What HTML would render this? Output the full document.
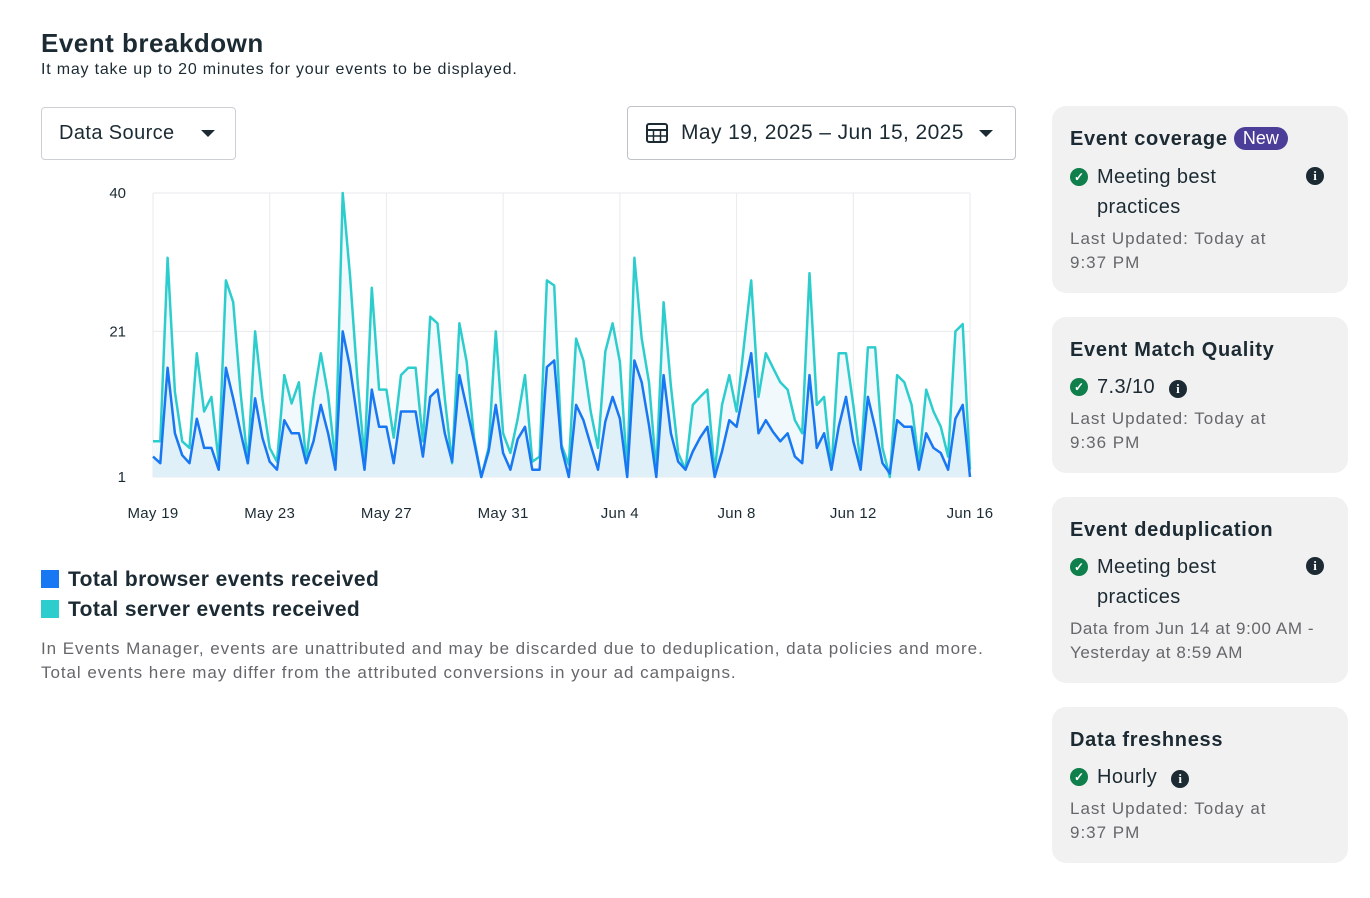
<!DOCTYPE html>
<html><head><meta charset="utf-8"><style>
body{margin:0;width:1370px;height:898px;background:#fff;font-family:"Liberation Sans",sans-serif;color:#1c2b33;position:relative;overflow:hidden}
.a{position:absolute}
.card{position:absolute;left:1052px;width:296px;background:#f1f1f1;border-radius:14px}
.ct{position:absolute;left:18px;font-weight:bold;font-size:20px;color:#1c2b33;letter-spacing:0.7px}
.row{position:absolute;left:18px;font-size:20px;color:#1c2b33;line-height:30px;letter-spacing:0.4px}
.chk{display:inline-block;width:18px;height:18px;border-radius:50%;background:#0f7f4c;color:#fff;font-size:12px;text-align:center;line-height:18px;vertical-align:2px;margin-right:9px;font-weight:bold;letter-spacing:0}
.inf{display:inline-block;width:18px;height:18px;border-radius:50%;background:#1c2b33;color:#fff;font-size:13px;text-align:center;line-height:18px;font-weight:bold;font-family:"Liberation Serif",serif;letter-spacing:0}
.sub{position:absolute;left:18px;font-size:17px;color:#65676b;line-height:24px;letter-spacing:1px}
.caret{position:absolute;width:0;height:0;border-left:7px solid transparent;border-right:7px solid transparent;border-top:7px solid #1c2b33}
</style></head><body>
<div class="a" style="left:41px;top:28px;font-size:26px;font-weight:bold;letter-spacing:0.5px">Event breakdown</div>
<div class="a" style="left:41px;top:61px;font-size:16px;letter-spacing:0.8px">It may take up to 20 minutes for your events to be displayed.</div>
<div class="a" style="left:41px;top:107px;width:195px;height:53px;border:1px solid #ccd0d5;border-radius:4px;font-size:20px;line-height:51px;box-sizing:border-box;padding-left:17px;letter-spacing:0.4px">Data Source<span class="caret" style="left:159px;top:22px"></span></div>
<div class="a" style="left:627px;top:106px;width:389px;height:54px;border:1px solid #bfc3c8;border-radius:4px;box-sizing:border-box;font-size:21px;line-height:52px;padding-left:53px;letter-spacing:0.4px">May 19, 2025 – Jun 15, 2025<span class="caret" style="left:351px;top:23px"></span>
<svg style="position:absolute;left:18px;top:15px" width="22" height="22"><rect x="1" y="2" width="20" height="18" rx="2" fill="none" stroke="#1c2b33" stroke-width="2"/><line x1="1" y1="8" x2="21" y2="8" stroke="#1c2b33" stroke-width="2"/><line x1="7.5" y1="8" x2="7.5" y2="20" stroke="#1c2b33" stroke-width="1.5"/><line x1="14.5" y1="8" x2="14.5" y2="20" stroke="#1c2b33" stroke-width="1.5"/><line x1="1" y1="14" x2="21" y2="14" stroke="#1c2b33" stroke-width="1.5"/></svg></div>

<svg id="chart" class="a" style="left:0;top:0" width="1030" height="540"></svg>

<div class="a" style="left:41px;top:568px;font-size:21px;font-weight:bold;letter-spacing:0.4px"><span style="display:inline-block;width:18px;height:18px;background:#1877f2;vertical-align:-2px;margin-right:9px"></span>Total browser events received</div>
<div class="a" style="left:41px;top:598px;font-size:21px;font-weight:bold;letter-spacing:0.4px"><span style="display:inline-block;width:18px;height:18px;background:#2ecdcd;vertical-align:-2px;margin-right:9px"></span>Total server events received</div>
<div class="a" style="left:41px;top:637px;font-size:17px;color:#65676b;line-height:24px;letter-spacing:0.95px;white-space:nowrap">In Events Manager, events are unattributed and may be discarded due to deduplication, data policies and more.<br>Total events here may differ from the attributed conversions in your ad campaigns.</div>

<div class="card" style="top:106px;height:187px">
<div class="ct" style="top:21px">Event coverage <span style="display:inline-block;background:#4b3e98;color:#fff;font-weight:normal;font-size:18px;border-radius:13px;padding:1px 9px;vertical-align:1px;letter-spacing:0">New</span></div>
<div class="row" style="top:56px"><span class="chk">✓</span>Meeting best<br><span style="padding-left:27px">practices</span></div>
<span class="inf a" style="left:254px;top:61px">i</span>
<div class="sub" style="top:121px">Last Updated: Today at<br>9:37 PM</div></div>

<div class="card" style="top:317px;height:156px">
<div class="ct" style="top:22px">Event Match Quality</div>
<div class="row" style="top:55px"><span class="chk">✓</span>7.3/10 <span class="inf" style="margin-left:8px">i</span></div>
<div class="sub" style="top:90px">Last Updated: Today at<br>9:36 PM</div></div>

<div class="card" style="top:497px;height:186px">
<div class="ct" style="top:22px">Event deduplication</div>
<div class="row" style="top:55px"><span class="chk">✓</span>Meeting best<br><span style="padding-left:27px">practices</span></div>
<span class="inf a" style="left:254px;top:60px">i</span>
<div class="sub" style="top:120px;letter-spacing:0.6px">Data from Jun 14 at 9:00 AM -<br>Yesterday at 8:59 AM</div></div>

<div class="card" style="top:707px;height:156px">
<div class="ct" style="top:22px">Data freshness</div>
<div class="row" style="top:55px"><span class="chk">✓</span>Hourly <span class="inf" style="margin-left:8px">i</span></div>
<div class="sub" style="top:90px">Last Updated: Today at<br>9:37 PM</div></div>

<script>
const yTicks=[1,21,40];
const xLabels=["May 19","May 23","May 27","May 31","Jun 4","Jun 8","Jun 12","Jun 16"];
const server=[5.9,5.9,31.1,12.7,5.9,5,18,10,12,3.1,28,25,12.7,2.9,21,11.8,5,3.1,15,11.1,14,3.1,11.8,18,12.3,3.1,40,28.7,14.6,3.6,27,13,13,6.4,15,16,16,5.9,23,22.1,11.8,2.9,22.1,16.8,6.4,1,5,21,7,4.3,9,15,3.1,3.8,28,27.3,5.4,2.7,20,17,10,5,18.2,22.1,16.8,1.8,31.1,20,14,1.8,25,13.5,4.3,2,10.9,12,13,1.8,10.9,15,10,19,28,12,18,16,14,13,8.8,7,29,10.9,12,2,18,18,10.9,2.9,18.8,18.8,5,1,15,14,10.9,2.9,13,10,7.9,3.8,21,22,2];
const browser=[3.8,2.9,16,7,4,2.9,9,5,5,2,16,11.8,7.2,2.9,11.8,6.4,3.1,2,8.8,7,7,2.9,5.9,10.9,7,2,21,16.1,9,2,13,7.9,7.9,2.9,10,10,10,3.8,12,13,7,3.1,15,10.5,5.9,1,4.5,10.9,4.3,2,6.2,7.9,2,2,16.1,17,5,1,10.9,8.8,5.4,2,8.6,12,9,1,17,14,8.1,1,15,7,3.1,2,4.5,6.4,7.9,1,4.5,8.8,7.9,13,18,7,8.8,7.2,5.9,7,3.8,2.9,15,5,7,2,7.9,12,5.9,2,12,7.7,2.9,1.5,8.8,7.9,7.9,2,7,5,4.3,2,9,10.9,1];
const svg=document.getElementById('chart');const NS='http://www.w3.org/2000/svg';
const X0=153,X1=970,Y0=477,Y1=193;
const sx=i=>X0+(X1-X0)*i/(server.length-1);
const sy=v=>Y0-(v-1)/(40-1)*(Y0-Y1);
function mk(t,a){const e=document.createElementNS(NS,t);for(const k in a)e.setAttribute(k,a[k]);svg.appendChild(e);return e;}
xLabels.forEach((l,k)=>{const x=X0+(X1-X0)*k/(xLabels.length-1);
 const g=mk('line',{x1:x,x2:x,y1:Y1,y2:Y0,stroke:'#e8eaed','stroke-width':1});
 
 
 const t=mk('text',{x:x,y:518,'text-anchor':'middle','font-size':15,fill:'#1c2b33','font-family':'Liberation Sans','letter-spacing':'0.3'});t.textContent=l;
 
 });
yTicks.forEach(v=>{const y=sy(v);
 const g=mk('line',{x1:X0,x2:X1,y1:y,y2:y,stroke:'#e8eaed','stroke-width':1});
 
 
 const t=mk('text',{x:126,y:y+5,'text-anchor':'end','font-size':15,fill:'#1c2b33','font-family':'Liberation Sans'});t.textContent=v;
 
 });
function pts(a){return a.map((v,i)=>sx(i).toFixed(1)+','+sy(v).toFixed(1)).join(' ');}
function area(a,fill,name){const p=mk('polygon',{points:X0+','+Y0+' '+pts(a)+' '+X1+','+Y0,fill:fill});
 
 }
area(server,'#f1f9fc','server-area');area(browser,'#e0f0f8','browser-area');
const ls=mk('polyline',{points:pts(server),fill:'none',stroke:'#2ecdcd','stroke-width':2.5,'stroke-linejoin':'round'});


const lb=mk('polyline',{points:pts(browser),fill:'none',stroke:'#1877f2','stroke-width':2.5,'stroke-linejoin':'round'});


</script>
</body></html>
